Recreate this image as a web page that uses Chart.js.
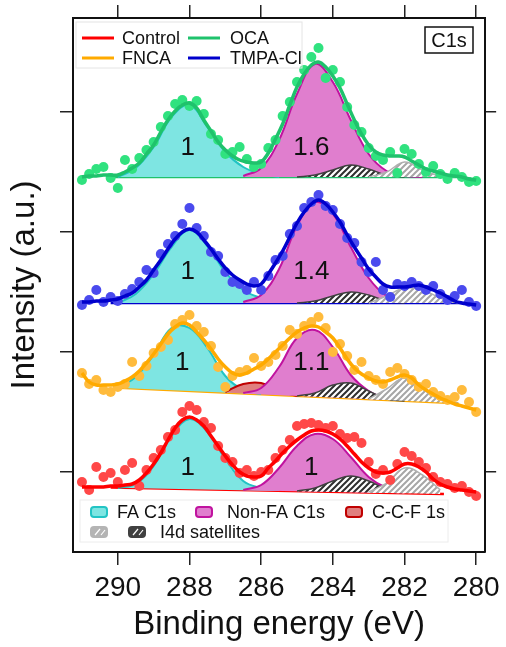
<!DOCTYPE html>
<html>
<head>
<meta charset="utf-8">
<script src="https://cdn.jsdelivr.net/npm/chart.js@4.4.1/dist/chart.umd.min.js"></script>
<style>
  html, body { margin: 0; padding: 0; background: #fff; }
</style>
</head>
<body>
<canvas id="xps" width="506" height="647"></canvas>
<script>
// binding energies (eV) of the measured points / fitted envelopes
const energy = [291.0, 290.8, 290.6, 290.4, 290.2, 290.0, 289.8, 289.6, 289.4, 289.2,
  289.0, 288.8, 288.6, 288.4, 288.2, 288.0, 287.8, 287.6, 287.4, 287.2,
  287.0, 286.8, 286.6, 286.4, 286.2, 286.0, 285.8, 285.6, 285.4, 285.2,
  285.0, 284.8, 284.6, 284.4, 284.2, 284.0, 283.8, 283.6, 283.4, 283.2,
  283.0, 282.8, 282.6, 282.4, 282.2, 282.0, 281.8, 281.6, 281.4, 281.2,
  281.0, 280.8, 280.6, 280.4, 280.2, 280.0];

// stacked spectra (offset intensity, a.u.)
const ocaFit = [375, 376, 376, 377, 377, 377, 380, 384, 389, 398, 407, 420, 432, 441, 447, 449, 444, 432, 421, 410,
  402, 396, 392, 390, 389, 390, 399, 413, 428, 447, 465, 478, 487, 490, 485, 476, 464, 448, 432, 418,
  407, 400, 397, 396, 396, 395, 391, 387, 383, 381, 379, 377, 376, 375, 373, 372];
const ocaDots = [372, 378, 383, 385, 374, 364, 392, 383, 394, 402, 410, 425, 436, 448, 452, 446, 451, 438, 418, 412,
  398, 400, 405, 393, 385, 388, 404, 412, 436, 450, 470, 482, 495, 504, 474, 482, 470, 445, 427, 420,
  404, 396, 392, 400, 379, 403, 398, 388, 380, 386, 378, 373, 379, 375, 370, 371];
const tmpaFit = [250, 250, 251, 251, 252, 253, 256, 259, 265, 272, 282, 292, 303, 313, 320, 323, 320, 312, 303, 293,
  284, 277, 272, 268, 266, 268, 278, 289, 301, 315, 329, 340, 348, 352, 348, 340, 330, 317, 305, 294,
  283, 275, 268, 265, 265, 265, 266, 267, 265, 262, 259, 255, 251, 249, 248, 247];
const tmpaDots = [247, 252, 262, 250, 255, 251, 258, 263, 270, 282, 279, 298, 308, 316, 328, 344, 324, 316, 300, 296,
  280, 270, 268, 262, 270, 262, 276, 292, 296, 318, 326, 344, 350, 357, 346, 342, 328, 314, 309, 290,
  280, 290, 262, 255, 268, 266, 270, 266, 262, 266, 258, 252, 256, 262, 250, 246];
const fncaFit = [179, 170, 167, 167, 167, 168, 171, 175, 181, 189, 198, 208, 218, 225, 229, 227, 220, 212, 203, 193,
  185, 179, 177, 179, 183, 187, 193, 200, 207, 214, 220, 224, 226, 225, 220, 214, 204, 193, 184, 178,
  174, 171, 170, 172, 175, 177, 174, 167, 162, 158, 154, 151, 148, 146, 144, 142];
const fncaDots = [179, 168, 172, 162, 160, 165, 168, 190, 176, 186, 199, 205, 212, 228, 232, 237, 226, 220, 206, 185,
  165, 176, 180, 182, 194, 186, 190, 197, 206, 222, 218, 226, 230, 235, 224, 200, 208, 196, 182, 190,
  176, 172, 168, 180, 184, 178, 172, 165, 168, 160, 156, 152, 155, 162, 150, 140];
const controlFit = [65, 65, 65, 65, 66, 66, 67, 68, 72, 79, 88, 99, 112, 124, 132, 135, 132, 126, 116, 106,
  96, 87, 80, 76, 75, 76, 84, 91, 99, 106, 112, 117, 121, 122, 121, 118, 113, 106, 98, 90,
  84, 80, 79, 80, 84, 88, 88, 85, 80, 73, 68, 65, 63, 62, 61, 60];
const controlDots = [70, 62, 85, 75, 79, 70, 82, 89, 66, 82, 94, 102, 115, 122, 140, 146, 142, 130, 124, 106,
  94, 90, 79, 82, 76, 80, 82, 94, 102, 112, 126, 128, 129, 127, 124, 126, 118, 114, 115, 109,
  90, 78, 82, 72, 88, 100, 96, 90, 84, 75, 70, 68, 64, 66, 60, 56];

// fitted components, on a coarser energy grid
const compEnergy = [291, 290.5, 290, 289.5, 289, 288.5, 288, 287.5, 287, 286.5, 286, 285.5,
  285, 284.5, 284, 283.5, 283, 282.5, 282, 281.5, 281, 280.5, 280];
const n = null;
const ocaFa = [n, n, 375, 384, 405, 435, 447, 425, 400, 385, 378, 375, n, n, n, n, n, n, n, n, n, n, n];
const ocaNonFa = [n, n, n, n, n, n, n, n, n, 376, 384, 412, 458, 488, 470, 432, 398, 381, 376, 375, n, n, n];
const ocaSatA = [n, n, n, n, n, n, n, n, n, n, n, n, 375, 377, 382, 387, 383, 377, 375, n, n, n, n];
const ocaSatB = [n, n, n, n, n, n, n, n, n, n, n, n, n, n, n, n, 375, 380, 390, 382, 376, 375, n];
const tmpaFa = [n, n, 249, 258, 278, 305, 322, 306, 280, 262, 254, 250, n, n, n, n, n, n, n, n, n, n, n];
const tmpaNonFa = [n, n, n, n, n, n, n, n, n, 250, 257, 283, 326, 350, 338, 305, 274, 256, 250, n, n, n, n];
const tmpaSatA = [n, n, n, n, n, n, n, n, n, n, n, n, 249, 251, 256, 260, 257, 251, 249, n, n, n, n];
const tmpaSatB = [n, n, n, n, n, n, n, n, n, n, n, n, n, n, n, n, 249, 256, 264, 262, 254, 249, n];
const fncaFa = [n, n, 164, 175, 197, 224, 224, 204, 176, 162, 158, n, n, n, n, n, n, n, n, n, n, n, n];
const fncaCcf = [n, n, n, n, n, n, n, n, 160, 168, 169, 161, 156, n, n, n, n, n, n, n, n, n, n];
const fncaNonFa = [n, n, n, n, n, n, n, n, n, 159, 164, 185, 214, 222, 205, 177, 161, 153, n, n, n, n, n];
const fncaSatA = [n, n, n, n, n, n, n, n, n, n, n, n, 156, 159, 167, 169, 161, 153, 151, n, n, n, n];
const fncaSatB = [n, n, n, n, n, n, n, n, n, n, n, n, n, n, n, n, 153, 163, 174, 163, 152, 149, n];
const controlFa = [n, n, 64, 68, 86, 116, 133, 120, 93, 71, 64, 62, n, n, n, n, n, n, n, n, n, n, n];
const controlNonFa = [n, n, n, n, n, n, n, n, n, 62, 67, 84, 106, 118, 113, 95, 75, 64, 60, n, n, n, n];
const controlSatA = [n, n, n, n, n, n, n, n, n, n, n, n, 61, 64, 71, 76, 71, 63, 60, n, n, n, n];
const controlSatB = [n, n, n, n, n, n, n, n, n, n, n, n, n, n, n, n, 60, 69, 84, 77, 62, n, n];

// linear backgrounds (start / end)
const ocaBaseE = [290.2, 280.4], ocaBase = [375, 375];
const tmpaBaseE = [290.2, 280.4], tmpaBase = [249, 249];
const fncaBaseE = [290.1, 280.5], fncaBase = [164.5, 148.7];
const controlBaseE = [290.2, 280.9], controlBase = [64.4, 57.9];

// area ratios written on the peaks
const areaText = ['1', '1.6', '1', '1.4', '1', '1.1', '1', '1'];
const areaE = [288.05, 284.6, 288.05, 284.6, 288.2, 284.6, 288.05, 284.6];
const areaV = [404, 404, 280, 280, 189, 189, 84, 84];

const seriesNames = ['Control', 'OCA', 'FNCA', 'TMPA-Cl'];
const componentNames = ['FA C1s', 'Non-FA C1s', 'C-C-F 1s', 'I4d satellites'];
const xTicks = [290, 288, 286, 284, 282, 280];
const yTicks = [80, 200, 320, 440];

const FONT = '"Liberation Sans", Arial, sans-serif';
Chart.defaults.font.family = FONT;
Chart.defaults.color = '#111';

const canvas = document.getElementById('xps');
const ctx = canvas.getContext('2d');

function hatch(bg, fg) {
    const c = document.createElement('canvas');
    c.width = 6; c.height = 6;
    const g = c.getContext('2d');
    g.fillStyle = bg;
    g.fillRect(0, 0, 6, 6);
    g.strokeStyle = fg;
    g.lineWidth = 2;
    g.beginPath();
    g.moveTo(0, 6); g.lineTo(6, 0);
    g.moveTo(-3, 3); g.lineTo(3, -3);
    g.moveTo(3, 9); g.lineTo(9, 3);
    g.stroke();
    return ctx.createPattern(c, 'repeat');
}
const darkHatch = hatch('#ffffff', '#2e2e2e');
const lightHatch = hatch('#ffffff', '#a6a6a6');

const colors = {
    Control: { line: '#ff0000', dot: '#ff4848' },
    OCA: { line: '#1fc26c', dot: '#30e27f' },
    FNCA: { line: '#ffaa00', dot: '#ffbb3c' },
    'TMPA-Cl': { line: '#0000cc', dot: '#4a4aee' }
};
const compStyle = [
    { fill: '#7ee5e2', border: '#22c4c4' },
    { fill: '#e07ece', border: '#c0139f' },
    { fill: '#e07f7f', border: '#c00000' },
    { fill: lightHatch, border: '#b0b0b0' },
    { fill: darkHatch, border: '#404040' }
];

const pts = (xs, ys) => xs.map((x, i) => ({ x: x, y: ys[i] }));

const datasets = [];
function addSpectrum(name, fit, dots, comps, baseE, base) {
    const c = colors[name];
    const group = [];
    group.push({ data: pts(energy, fit), borderColor: c.line, borderWidth: 3.5, pointRadius: 0, tension: 0.4, fill: false });
    group.push({ data: pts(energy, dots), showLine: false, pointRadius: 5, pointBackgroundColor: c.dot, pointBorderWidth: 0 });
    // comps listed front to back: [satB(light), satA(dark), ccf, nonFa, fa]
    comps.forEach(cp => {
        if (!cp.values) return;
        const st = compStyle[cp.style];
        group.push({ data: pts(compEnergy, cp.values), borderColor: st.border, borderWidth: cp.style > 2 ? 1.5 : 2,
            backgroundColor: st.fill, pointRadius: 0, tension: 0.4, spanGaps: false, fill: 'BASE' });
    });
    const baseIndex = datasets.length + group.length;
    group.forEach(d => { if (d.fill === 'BASE') d.fill = baseIndex; });
    group.push({ data: pts(baseE, base), borderColor: c.line, borderWidth: 2.5, pointRadius: 0, fill: false });
    group.forEach(d => datasets.push(d));
}

addSpectrum('OCA', ocaFit, ocaDots, [
    { values: ocaSatB, style: 3 }, { values: ocaSatA, style: 4 }, { values: ocaNonFa, style: 1 }, { values: ocaFa, style: 0 }
], ocaBaseE, ocaBase);
addSpectrum('TMPA-Cl', tmpaFit, tmpaDots, [
    { values: tmpaSatB, style: 3 }, { values: tmpaSatA, style: 4 }, { values: tmpaNonFa, style: 1 }, { values: tmpaFa, style: 0 }
], tmpaBaseE, tmpaBase);
addSpectrum('FNCA', fncaFit, fncaDots, [
    { values: fncaSatB, style: 3 }, { values: fncaSatA, style: 4 }, { values: fncaNonFa, style: 1 },
    { values: fncaCcf, style: 2 }, { values: fncaFa, style: 0 }
], fncaBaseE, fncaBase);
addSpectrum('Control', controlFit, controlDots, [
    { values: controlSatB, style: 3 }, { values: controlSatA, style: 4 }, { values: controlNonFa, style: 1 }, { values: controlFa, style: 0 }
], controlBaseE, controlBase);

function roundBox(g, x, y, w, h, fill, stroke) {
    g.beginPath();
    g.roundRect(x, y, w, h, 3);
    g.fillStyle = fill;
    g.fill();
    g.lineWidth = 2;
    g.strokeStyle = stroke;
    g.stroke();
}

const annotate = {
    id: 'annotate',
    afterDatasetsDraw(chart) {
        const g = chart.ctx;
        const sx = chart.scales.x, sy = chart.scales.y;
        g.save();
        g.fillStyle = '#111';
        g.textAlign = 'center';
        g.textBaseline = 'middle';
        g.font = '26px ' + FONT;
        areaText.forEach((t, i) => g.fillText(t, sx.getPixelForValue(areaE[i]), sy.getPixelForValue(areaV[i])));

        // series legend (top left)
        g.strokeStyle = '#e4e4e4';
        g.lineWidth = 1;
        g.strokeRect(76, 22, 226, 46);
        g.font = '18px ' + FONT;
        g.textAlign = 'left';
        const spots = [[82, 38], [188, 38], [82, 58], [188, 58]];
        const order = ['Control', 'OCA', 'FNCA', 'TMPA-Cl'];
        order.forEach((nm, i) => {
            const [lx, ly] = spots[i];
            g.strokeStyle = colors[nm].line;
            g.lineWidth = 3;
            g.beginPath(); g.moveTo(lx, ly); g.lineTo(lx + 32, ly); g.stroke();
            g.fillStyle = '#111';
            g.fillText(seriesNames[seriesNames.indexOf(nm)], lx + (i % 2 ? 42 : 40), ly + 1);
        });

        // C1s tag
        g.lineWidth = 1.5;
        g.strokeStyle = '#111';
        g.strokeRect(425, 27, 48, 26);
        g.font = '20px ' + FONT;
        g.textAlign = 'center';
        g.fillText('C1s', 449, 41);

        // component legend (bottom)
        g.strokeStyle = '#ececec';
        g.lineWidth = 1;
        g.strokeRect(80, 500, 368, 42);
        g.font = '18px ' + FONT;
        g.textAlign = 'left';
        roundBox(g, 91, 507, 16, 10, compStyle[0].fill, compStyle[0].border);
        g.fillStyle = '#111'; g.fillText(componentNames[0], 117, 513);
        roundBox(g, 196, 507, 16, 10, compStyle[1].fill, compStyle[1].border);
        g.fillStyle = '#111'; g.fillText(componentNames[1], 227, 513);
        roundBox(g, 346, 507, 16, 10, compStyle[2].fill, compStyle[2].border);
        g.fillStyle = '#111'; g.fillText(componentNames[2], 372, 513);
        roundBox(g, 91, 527, 16, 10, '#b4b4b4', '#b4b4b4');
        roundBox(g, 129, 527, 16, 10, '#404040', '#404040');
        g.strokeStyle = '#fff'; g.lineWidth = 1.2;
        [[95, 535, 100, 529], [101, 535, 105, 530], [133, 535, 138, 529], [139, 535, 143, 530]].forEach(s => {
            g.beginPath(); g.moveTo(s[0], s[1]); g.lineTo(s[2], s[3]); g.stroke();
        });
        g.fillStyle = '#111'; g.fillText(componentNames[3], 160, 533);
        g.restore();
    }
};

const setTicks = vals => scale => { scale.ticks = vals.map(v => ({ value: v })); };
const tickGrid = len => ({ drawOnChartArea: false, drawTicks: true, tickLength: len, color: '#222', lineWidth: 1.5 });
const frame = { display: true, color: '#111', width: 2 };

new Chart(ctx, {
    type: 'line',
    data: { datasets: datasets },
    options: {
        responsive: false,
        animation: false,
        devicePixelRatio: 1,
        layout: { padding: 0 },
        plugins: { legend: { display: false }, tooltip: { enabled: false } },
        scales: {
            x: {
                type: 'linear', position: 'bottom', min: 279.75, max: 291.25, reverse: true,
                afterBuildTicks: setTicks(xTicks),
                afterFit: s => { s.height = 95; },
                ticks: { font: { size: 28 }, color: '#111', padding: 6, maxRotation: 0 },
                grid: tickGrid(13),
                border: frame,
                title: { display: true, text: 'Binding energy (eV)', font: { size: 33 }, color: '#111', padding: { top: 0, bottom: 2 } }
            },
            x2: {
                type: 'linear', position: 'top', min: 279.75, max: 291.25, reverse: true,
                afterBuildTicks: setTicks(xTicks),
                afterFit: s => { s.height = 18; },
                ticks: { display: false },
                grid: tickGrid(13),
                border: frame
            },
            y: {
                type: 'linear', position: 'left', min: 0, max: 534,
                afterBuildTicks: setTicks(yTicks),
                afterFit: s => { s.width = 73; },
                ticks: { display: false },
                grid: tickGrid(13),
                border: frame,
                title: { display: true, text: 'Intensity (a.u.)', font: { size: 33 }, color: '#111', padding: { top: 5, bottom: 0 } }
            },
            y2: {
                type: 'linear', position: 'right', min: 0, max: 534,
                afterBuildTicks: setTicks(yTicks),
                afterFit: s => { s.width = 16; },
                ticks: { display: false },
                grid: tickGrid(11),
                border: frame
            }
        }
    },
    plugins: [annotate]
});
</script>
</body>
</html>
